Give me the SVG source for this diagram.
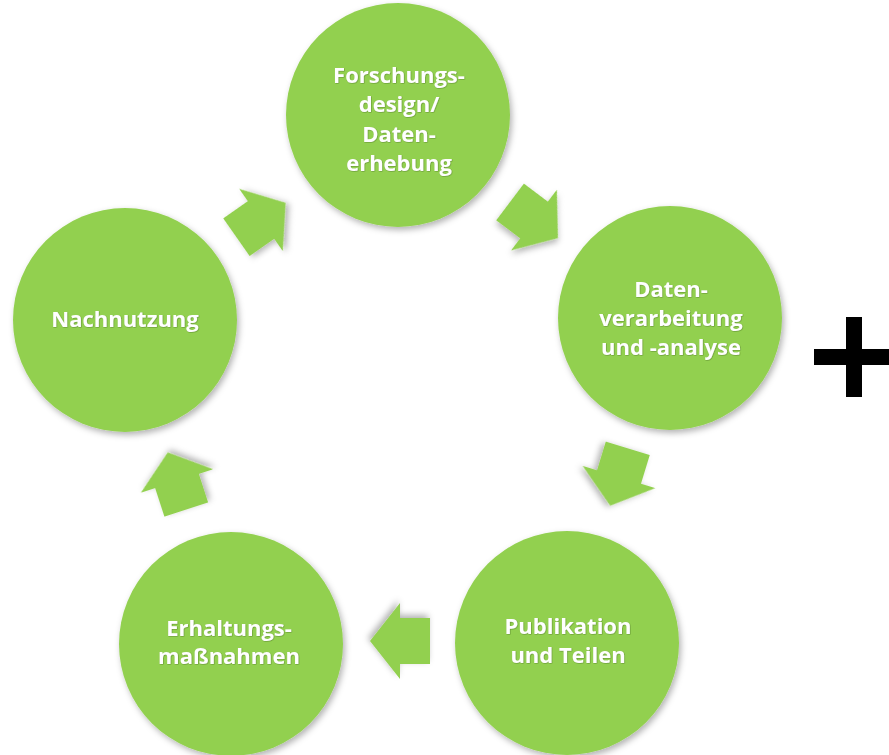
<svg xmlns="http://www.w3.org/2000/svg" width="889" height="755" viewBox="0 0 889 755">
  <defs>
    <filter id="sh" x="-20%" y="-20%" width="140%" height="140%">
      <feDropShadow dx="2" dy="3" stdDeviation="3" flood-color="#000" flood-opacity="0.3"/>
    </filter>
    <filter id="tsh" x="-10%" y="-30%" width="120%" height="160%">
      <feDropShadow dx="0.5" dy="0.5" stdDeviation="0.6" flood-color="#3a5a1a" flood-opacity="0.6"/>
    </filter>
    <polygon id="arr" points="-30,-23 0,-23 0,-38 30,0 0,38 0,23 -30,23"/>
  </defs>
  <style>
    .c { fill: #92D050; filter: url(#sh); }
    .a { fill: #92D050; filter: url(#sh); }
    .t { fill: #ffffff; font-family: "Open Sans", "Liberation Sans", sans-serif; font-weight: 700; font-size: 22px; text-anchor: middle; filter: url(#tsh); }
  </style>
  <rect width="889" height="755" fill="#ffffff"/>

  <g id="connectors">
    <use href="#arr" class="a" transform="translate(534,220) rotate(37)"/>
    <use href="#arr" class="a" transform="translate(619,477) rotate(107)"/>
    <use href="#arr" class="a" transform="translate(400,641) rotate(180)"/>
    <use href="#arr" class="a" transform="translate(177,481) rotate(-108)"/>
    <use href="#arr" class="a" transform="translate(261,220) rotate(-35)"/>
  </g>

  <g id="node-forschung">
    <circle class="c" cx="398" cy="115" r="112"/>
    <text class="t" x="399" y="83">Forschungs-</text>
    <text class="t" x="399" y="112">design/</text>
    <text class="t" x="399" y="142">Daten-</text>
    <text class="t" x="399" y="171">erhebung</text>
  </g>

  <g id="node-verarbeitung">
    <circle class="c" cx="670" cy="318" r="112"/>
    <text class="t" x="671" y="297">Daten-</text>
    <text class="t" x="671" y="326">verarbeitung</text>
    <text class="t" x="671" y="355">und -analyse</text>
  </g>

  <g id="node-publikation">
    <circle class="c" cx="567" cy="643" r="112"/>
    <text class="t" x="568" y="634">Publikation</text>
    <text class="t" x="568" y="663">und Teilen</text>
  </g>

  <g id="node-erhaltung">
    <circle class="c" cx="231" cy="644" r="112"/>
    <text class="t" x="229" y="636">Erhaltungs-</text>
    <text class="t" x="229" y="664">maßnahmen</text>
  </g>

  <g id="node-nachnutzung">
    <circle class="c" cx="125" cy="320" r="112"/>
    <text class="t" x="125" y="327">Nachnutzung</text>
  </g>

  <g id="plus" fill="#000000">
    <rect x="846" y="317" width="16" height="80"/>
    <rect x="814" y="349" width="75" height="16"/>
  </g>
</svg>
